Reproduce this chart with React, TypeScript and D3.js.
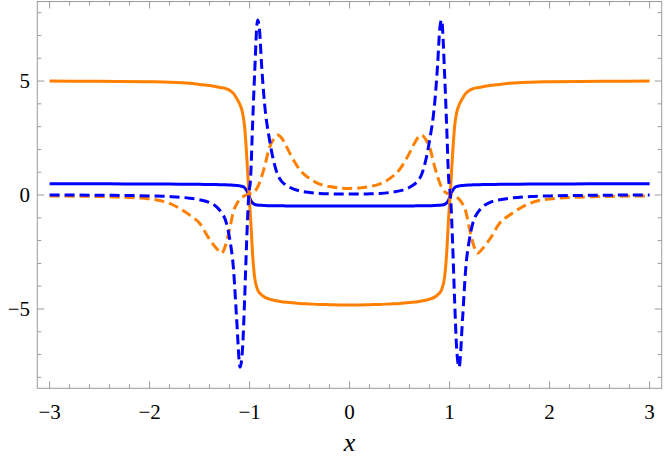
import React from 'react';
import * as d3 from 'd3';

// shared sample positions (dense near the two kinks at x = ±1)
const xs = [
  -3.0, -2.5, -2.0, -1.8, -1.6, -1.5, -1.4, -1.33, -1.28, -1.24, -1.2, -1.16, -1.13, -1.095,
  -1.07, -1.05, -1.03, -1.01, -0.99, -0.97, -0.95, -0.92, -0.9, -0.88, -0.85, -0.8, -0.76,
  -0.72, -0.68, -0.64, -0.6, -0.5, -0.4, -0.3, -0.2, -0.1, 0,
  0.1, 0.2, 0.3, 0.4, 0.5, 0.6, 0.64, 0.68, 0.72, 0.76, 0.8, 0.85, 0.88, 0.9, 0.92, 0.95,
  0.97, 0.99, 1.01, 1.03, 1.05, 1.07, 1.095, 1.13, 1.16, 1.2, 1.24, 1.28, 1.33, 1.4, 1.5,
  1.6, 1.8, 2.0, 2.5, 3.0,
];

const orangeSolid = [
  5.0, 4.99, 4.97, 4.95, 4.9, 4.85, 4.8, 4.75, 4.71, 4.67, 4.6, 4.45, 4.25, 3.95,
  3.6, 3.0, 1.8, 0.3, -1.0, -2.6, -3.6, -4.15, -4.3, -4.38, -4.48, -4.57, -4.62,
  -4.65, -4.68, -4.7, -4.72, -4.76, -4.78, -4.8, -4.81, -4.82, -4.82,
  -4.82, -4.81, -4.8, -4.78, -4.76, -4.72, -4.7, -4.68, -4.65, -4.62, -4.57, -4.48, -4.38, -4.3, -4.15, -3.6,
  -2.6, -1.0, 0.3, 1.8, 3.0, 3.6, 3.95, 4.25, 4.45, 4.6, 4.67, 4.71, 4.75, 4.8, 4.85,
  4.9, 4.95, 4.97, 4.99, 5.0,
];

const blueSolid = [
  0.49, 0.49, 0.48, 0.48, 0.47, 0.47, 0.46, 0.46, 0.45, 0.45, 0.44, 0.43, 0.42, 0.4,
  0.37, 0.32, 0.2, 0.02, -0.22, -0.35, -0.41, -0.44, -0.45, -0.45, -0.46, -0.47, -0.47,
  -0.47, -0.47, -0.48, -0.48, -0.48, -0.48, -0.48, -0.48, -0.48, -0.48,
  -0.48, -0.48, -0.48, -0.48, -0.48, -0.48, -0.48, -0.47, -0.47, -0.47, -0.47, -0.46, -0.45, -0.45, -0.44, -0.41,
  -0.35, -0.22, 0.02, 0.2, 0.32, 0.37, 0.4, 0.42, 0.43, 0.44, 0.45, 0.45, 0.46, 0.46, 0.47,
  0.47, 0.48, 0.48, 0.49, 0.49,
];

const blueDashed = [
  0.0, -0.01, -0.04, -0.07, -0.14, -0.21, -0.33, -0.52, -0.78, -1.12, -1.9, -3.3, -5.4, -7.55,
  -6.7, -4.6, -2.1, -0.1, 0.75, 3.1, 5.3, 7.68, 7.2, 5.7, 4.0, 2.4, 1.5,
  0.9, 0.6, 0.45, 0.34, 0.18, 0.11, 0.07, 0.05, 0.04, 0.04,
  0.04, 0.05, 0.07, 0.11, 0.18, 0.34, 0.45, 0.6, 0.9, 1.5, 2.4, 4.0, 5.7, 7.2, 7.68, 5.3,
  3.1, 0.75, -0.1, -2.1, -4.6, -6.7, -7.55, -5.4, -3.3, -1.9, -1.12, -0.78, -0.52, -0.33, -0.21,
  -0.14, -0.07, -0.04, -0.01, 0.0,
];

const orangeDashed = [
  -0.04, -0.07, -0.17, -0.37, -0.88, -1.24, -1.95, -2.35, -2.55, -2.2, -1.5, -0.7, -0.4, -0.18,
  -0.09, -0.03, 0.01, 0.04, 0.06, 0.08, 0.15, 0.35, 0.55, 0.8, 1.25, 2.1, 2.45,
  2.63, 2.5, 2.2, 1.85, 1.12, 0.72, 0.48, 0.37, 0.31, 0.29,
  0.31, 0.37, 0.48, 0.72, 1.12, 1.85, 2.2, 2.5, 2.63, 2.45, 2.1, 1.25, 0.8, 0.55, 0.35, 0.15,
  0.08, 0.06, 0.04, 0.01, -0.03, -0.09, -0.18, -0.4, -0.7, -1.5, -2.2, -2.55, -2.35, -1.95, -1.24,
  -0.88, -0.37, -0.17, -0.07, -0.04,
];

const xTicks = [-3, -2, -1, 0, 1, 2, 3];
const yTicks = [-5, 0, 5];

const fmt = (v: number) => (v < 0 ? '\u2212' + Math.abs(v) : String(v));

const left = 37.3, right = 661.7, top = 1.5, bottom = 388.3;
const frameColor = '#9a9a9a';
const font = 'Liberation Serif';

export default function App() {
  const x = d3.scaleLinear().domain([-3.123, 3.121]).range([left, right]);
  const y = d3.scaleLinear().domain([-8.48, 8.49]).range([bottom, top]);

  const line = d3.line<number>()
    .x((_, i) => x(xs[i]))
    .y(d => y(d))
    .curve(d3.curveMonotoneX);

  const series = [
    { key: 'bs', vals: blueSolid, color: '#0000ff', dash: undefined },
    { key: 'os', vals: orangeSolid, color: '#ff8000', dash: undefined },
    { key: 'od', vals: orangeDashed, color: '#ff8000', dash: '10,5' },
    { key: 'bd', vals: blueDashed, color: '#0000ff', dash: '10,5' },
  ];

  // ticks point inward on all four sides
  const xMinor = d3.range(-30, 31, 2).map(v => v / 10);
  const yMinor = d3.range(-8, 9, 1);

  return (
    <svg width={664} height={457} style={{ position: 'absolute', left: 0, top: 0, background: '#fff' }}>
      <g>
        {series.map(s => (
          <path
            key={s.key}
            d={line(s.vals) || ''}
            fill="none"
            stroke={s.color}
            strokeWidth={3}
            strokeLinejoin="round"
            strokeDasharray={s.dash}
          />
        ))}
      </g>

      <rect x={left} y={top} width={right - left} height={bottom - top} fill="none" stroke={frameColor} strokeWidth={1} />

      <g stroke={frameColor} strokeWidth={1}>
        {xMinor.map(v => {
          const len = Math.abs(v - Math.round(v)) < 1e-9 ? 7 : 4;
          const px = x(v);
          return (
            <g key={'xt' + v}>
              <line x1={px} x2={px} y1={bottom} y2={bottom - len} />
              <line x1={px} x2={px} y1={top} y2={top + len} />
            </g>
          );
        })}
        {yMinor.map(v => {
          const len = v % 5 === 0 ? 7 : 4;
          const py = y(v);
          return (
            <g key={'yt' + v}>
              <line x1={left} x2={left + len} y1={py} y2={py} />
              <line x1={right} x2={right - len} y1={py} y2={py} />
            </g>
          );
        })}
      </g>

      <g style={{ fontFamily: font }} fontSize={21} fill="#000">
        {xTicks.map(d => (
          <text key={'xl' + d} x={x(d)} y={419} textAnchor="middle">{fmt(d)}</text>
        ))}
        {yTicks.map(d => (
          <text key={'yl' + d} x={30} y={y(d)} dy="0.35em" textAnchor="end">{fmt(d)}</text>
        ))}
      </g>

      <text
        x={x(0)}
        y={451}
        textAnchor="middle"
        fontSize={26}
        fontStyle="italic"
        style={{ fontFamily: font }}
      >
        x
      </text>
    </svg>
  );
}
